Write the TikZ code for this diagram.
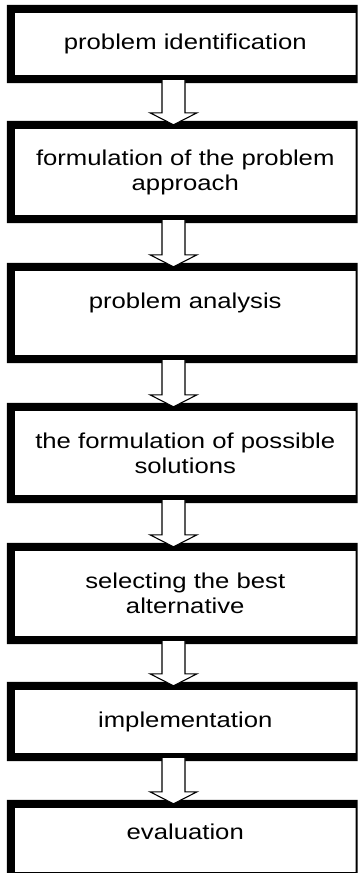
\documentclass[tikz,border=0pt]{standalone}
\usepackage{fontspec}
\usetikzlibrary{calc}
\newfontfamily\boxfont{Liberation Sans}[FakeStretch=1.195]
\tikzset{
  stepbox/.style={rectangle, inner sep=0pt, minimum width=340.5pt, align=center,
    fill=white, font=\boxfont\fontsize{21.5}{25}\selectfont},
  stepframe/.style={fill=black, even odd rule},
  flowarrow/.style={fill=white, draw=black, line width=1.1pt, line join=miter}
}
% heavy frame: thick on left, top and bottom, thin on the right
\newcommand\stepframe[1]{%
  \fill[stepframe] ([shift={(-8pt,8pt)}]#1.north west) rectangle ([shift={(2pt,-8pt)}]#1.south east)
    (#1.north west) rectangle (#1.south east);}
% hollow block arrow between two steps
\newcommand\steparrow[2]{%
  \draw[flowarrow] let \p1=(#1.south), \p2=(#2.north) in
    (162pt,\y1-5pt) -- (162pt,\y2+16pt) -- (150pt,\y2+16pt) -- (173.5pt,\y2+4pt)
    -- (197pt,\y2+16pt) -- (185pt,\y2+16pt) -- (185pt,\y1-5pt);}
\begin{document}
\begin{tikzpicture}[x=1pt,y=-1pt]
  \fill[white] (0,0) rectangle (359,873);
  \clip (0,0) rectangle (359,873);
  \node[stepbox, minimum height=62pt] (b1) at (185.25,44) {problem identification};
  \node[stepbox, minimum height=86pt] (b2) at (185.25,172) {formulation of the problem\\approach};
  \node[stepbox, minimum height=84pt] (b3) at (185.25,313) {problem analysis\\\mbox{}};
  \node[stepbox, minimum height=84pt] (b4) at (185.25,453) {the formulation of possible\\solutions};
  \node[stepbox, minimum height=85pt] (b5) at (185.25,593.5) {selecting the best\\alternative};
  \node[stepbox, minimum height=63pt] (b6) at (185.25,721.5) {implementation};
  \node[stepbox, minimum height=64pt, text depth=16pt] (b7) at (185.25,840) {evaluation};
  \foreach \n in {b1,b2,b3,b4,b5,b6,b7} {\stepframe{\n}}
  \steparrow{b1}{b2}
  \steparrow{b2}{b3}
  \steparrow{b3}{b4}
  \steparrow{b4}{b5}
  \steparrow{b5}{b6}
  \steparrow{b6}{b7}
\end{tikzpicture}
\end{document}
